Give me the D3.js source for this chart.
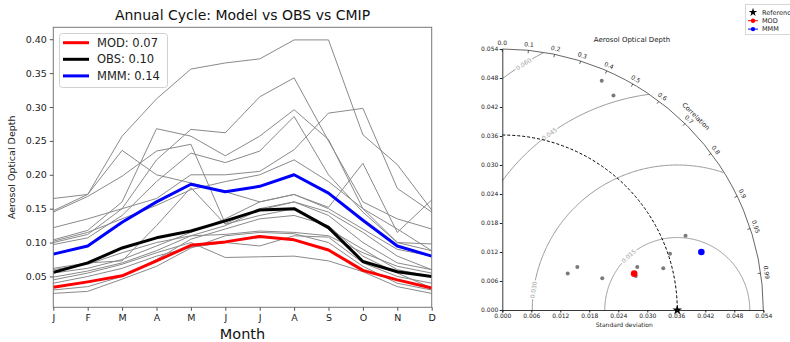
<html>
<head>
<script src="https://d3js.org/d3.v7.min.js"></script>
<style>
  body { margin: 0; background: #fff; }
  svg { font-family: "DejaVu Sans", sans-serif; }
</style>
</head>
<body>
<svg id="chart" width="790" height="342"></svg>
<script>
// ---- annual cycle data ----
const months = ["J", "F", "M", "A", "M", "J", "J", "A", "S", "O", "N", "D"];
const mod = [0.034, 0.042, 0.051, 0.073, 0.096, 0.101, 0.109, 0.104, 0.089, 0.059, 0.045, 0.033];
const obs = [0.056, 0.070, 0.092, 0.107, 0.117, 0.132, 0.148, 0.150, 0.122, 0.072, 0.057, 0.050];
const mmm = [0.083, 0.095, 0.130, 0.160, 0.186, 0.175, 0.183, 0.200, 0.173, 0.133, 0.095, 0.080];
const cmip = [
  [0.147, 0.171, 0.257, 0.312, 0.356, 0.365, 0.371, 0.399, 0.399, 0.259, 0.215, 0.148],
  [0.165, 0.171, 0.236, 0.200, 0.188, 0.175, 0.160, 0.171, 0.152, 0.217, 0.115, 0.163],
  [0.145, 0.168, 0.198, 0.235, 0.245, 0.128, 0.150, 0.160, 0.140, 0.100, 0.070, 0.060],
  [0.104, 0.118, 0.160, 0.268, 0.257, 0.228, 0.257, 0.296, 0.252, 0.150, 0.100, 0.088],
  [0.100, 0.112, 0.150, 0.222, 0.267, 0.262, 0.315, 0.343, 0.250, 0.160, 0.135, 0.120],
  [0.097, 0.107, 0.140, 0.190, 0.232, 0.218, 0.235, 0.286, 0.200, 0.145, 0.100, 0.098],
  [0.122, 0.135, 0.150, 0.165, 0.200, 0.200, 0.205, 0.237, 0.291, 0.298, 0.180, 0.145],
  [0.102, 0.115, 0.135, 0.155, 0.178, 0.190, 0.200, 0.222, 0.190, 0.150, 0.120, 0.088],
  [0.060, 0.068, 0.085, 0.100, 0.110, 0.125, 0.148, 0.160, 0.145, 0.115, 0.080, 0.060],
  [0.055, 0.062, 0.075, 0.095, 0.115, 0.135, 0.160, 0.171, 0.150, 0.120, 0.090, 0.080],
  [0.049, 0.058, 0.070, 0.088, 0.110, 0.112, 0.117, 0.115, 0.110, 0.085, 0.065, 0.055],
  [0.045, 0.055, 0.068, 0.085, 0.100, 0.078, 0.079, 0.080, 0.073, 0.057, 0.035, 0.025],
  [0.040, 0.050, 0.062, 0.080, 0.093, 0.100, 0.095, 0.110, 0.108, 0.070, 0.050, 0.040],
  [0.030, 0.035, 0.050, 0.075, 0.105, 0.120, 0.135, 0.140, 0.125, 0.080, 0.055, 0.033],
  [0.025, 0.028, 0.046, 0.065, 0.092, 0.110, 0.115, 0.113, 0.100, 0.065, 0.040, 0.030],
  [0.062, 0.070, 0.073, 0.125, 0.181, 0.127, 0.140, 0.150, 0.120, 0.090, 0.060, 0.050]
];
const legendLabels = ["MOD: 0.07", "OBS: 0.10", "MMM: 0.14"];
const yTicks = [0.05, 0.10, 0.15, 0.20, 0.25, 0.30, 0.35, 0.40];

// ---- taylor diagram data ----
const refStd = 0.0362;
const modStd = 0.0283, modCorr = 0.964;
const mmmStd = 0.0429, mmmCorr = 0.960;
const cmipStd = [0.0517, 0.0500, 0.0409, 0.0366, 0.0344, 0.0293, 0.0285, 0.0217, 0.0155, 0.0179];
const cmipCorr = [0.398, 0.460, 0.927, 0.948, 0.968, 0.953, 0.969, 0.953, 0.873, 0.867];
const stdTicks = [0, 0.006, 0.012, 0.018, 0.024, 0.030, 0.036, 0.042, 0.048, 0.054];
const corrTicks = [0, 0.1, 0.2, 0.3, 0.4, 0.5, 0.6, 0.7, 0.8, 0.9, 0.95, 0.99];
const rmsLevels = [0.015, 0.030, 0.045, 0.060];
const rmsLabelAngle = [132, 172, 126, 122]; // degrees around the reference point

const svg = d3.select("#chart");

// ================= left: annual cycle =================
const L = {left: 53.3, right: 431.7, top: 27.3, bottom: 307.3};
const x = d3.scaleLinear().domain([0, 11]).range([L.left, L.right]);
const y = d3.scaleLinear().domain([0.0045, 0.4176]).range([L.bottom, L.top]);
const line = d3.line().x((d, i) => x(i)).y(d => y(d));

const g1 = svg.append("g");

g1.selectAll(".cmip").data(cmip).enter().append("path")
  .attr("class", "cmip")
  .attr("d", line)
  .attr("fill", "none")
  .attr("stroke", "#8a8a8a")
  .attr("stroke-width", 1);

const main = [{v: mod, c: "#ff0000"}, {v: obs, c: "#000000"}, {v: mmm, c: "#0000ff"}];
g1.selectAll(".main").data(main).enter().append("path")
  .attr("class", "main")
  .attr("d", d => line(d.v))
  .attr("fill", "none")
  .attr("stroke", d => d.c)
  .attr("stroke-width", 3)
  .attr("stroke-linejoin", "round");

// frame
g1.append("rect")
  .attr("x", L.left).attr("y", L.top)
  .attr("width", L.right - L.left).attr("height", L.bottom - L.top)
  .attr("fill", "none").attr("stroke", "#777").attr("stroke-width", 1);

const xAxis = g1.append("g")
  .attr("transform", "translate(0," + L.bottom + ")")
  .call(d3.axisBottom(x).tickValues(d3.range(12)).tickFormat(i => months[i]).tickSize(3.5).tickPadding(3));
const yAxis = g1.append("g")
  .attr("transform", "translate(" + L.left + ",0)")
  .call(d3.axisLeft(y).tickValues(yTicks).tickFormat(d3.format(".2f")).tickSize(3.5).tickPadding(3));
[xAxis, yAxis].forEach(a => {
  a.select(".domain").remove();
  a.selectAll("line").attr("stroke", "#555");
  a.selectAll("text").attr("font-size", 9.5).attr("fill", "#222").attr("font-family", "DejaVu Sans");
});

g1.append("text")
  .attr("x", (L.left + L.right) / 2).attr("y", 20)
  .attr("text-anchor", "middle").attr("font-size", 14).attr("fill", "#111")
  .text("Annual Cycle: Model vs OBS vs CMIP");
g1.append("text")
  .attr("x", (L.left + L.right) / 2).attr("y", 339)
  .attr("text-anchor", "middle").attr("font-size", 14.5).attr("fill", "#111")
  .text("Month");
g1.append("text")
  .attr("transform", "translate(15," + (L.top + L.bottom) / 2 + ") rotate(-90)")
  .attr("text-anchor", "middle").attr("font-size", 9.5).attr("fill", "#222")
  .text("Aerosol Optical Depth");

// legend
const lg = g1.append("g");
lg.append("rect")
  .attr("x", 59.5).attr("y", 33.5).attr("width", 108).attr("height", 54).attr("rx", 3)
  .attr("fill", "#fff").attr("fill-opacity", 0.8).attr("stroke", "#d0d0d0");
legendLabels.forEach((t, i) => {
  const yy = 42.7 + i * 16.6;
  lg.append("line").attr("x1", 63).attr("x2", 89).attr("y1", yy).attr("y2", yy)
    .attr("stroke", main[i].c).attr("stroke-width", 3);
  lg.append("text").attr("x", 97).attr("y", yy).attr("dy", "0.35em")
    .attr("font-size", 11.5).attr("fill", "#222").text(t);
});

// ================= right: taylor diagram =================
const cx = 502.3, cy = 310, R = 261;
const rs = d3.scaleLinear().domain([0, 0.054]).range([0, R]);
const xs = d3.scaleLinear().domain([0, 0.054]).range([cx, cx + R]);
const ys = d3.scaleLinear().domain([0, 0.054]).range([cy, cy - R]);
const polar = (std, corr) => {
  const th = Math.acos(corr);
  return [cx + rs(std) * Math.cos(th), cy - rs(std) * Math.sin(th)];
};
const g2 = svg.append("g");

// rms contours around the reference
rmsLevels.forEach((lev, k) => {
  const pts = d3.range(0, 181, 0.5).map(a => {
    const p = a * Math.PI / 180;
    return [refStd + lev * Math.cos(p), lev * Math.sin(p)];
  });
  const ok = d => d[0] >= 0 && Math.hypot(d[0], d[1]) <= 0.054;
  g2.append("path")
    .attr("d", d3.line().defined(ok).x(d => xs(d[0])).y(d => ys(d[1]))(pts))
    .attr("fill", "none").attr("stroke", "#8c8c8c").attr("stroke-width", 0.9);
  const a = rmsLabelAngle[k] * Math.PI / 180;
  const lx = xs(refStd + lev * Math.cos(a)), ly = ys(lev * Math.sin(a));
  g2.append("text")
    .attr("transform", "translate(" + lx + "," + ly + ") rotate(" + (-(rmsLabelAngle[k] - 90)) + ")")
    .attr("text-anchor", "middle").attr("dy", "0.35em")
    .attr("font-size", 6).attr("fill", "#a0a0a0")
    .attr("stroke", "#fff").attr("stroke-width", 3).attr("paint-order", "stroke")
    .text(d3.format(".3f")(lev));
});

// outer arc and reference arc
const arcPath = rad => { const p = d3.path(); p.arc(cx, cy, rad, -Math.PI / 2, 0); return p.toString(); };
g2.append("path").attr("d", arcPath(R)).attr("fill", "none").attr("stroke", "#555").attr("stroke-width", 0.9);
g2.append("path").attr("d", arcPath(rs(refStd))).attr("fill", "none")
  .attr("stroke", "#000").attr("stroke-width", 1).attr("stroke-dasharray", "3,2");

// correlation ticks + labels
corrTicks.forEach(c => {
  const th = Math.acos(c);
  g2.append("line")
    .attr("x1", cx + R * Math.cos(th)).attr("y1", cy - R * Math.sin(th))
    .attr("x2", cx + (R - 3) * Math.cos(th)).attr("y2", cy - (R - 3) * Math.sin(th))
    .attr("stroke", "#333").attr("stroke-width", 0.8);
  const rr = R + 5.5;
  g2.append("text")
    .attr("transform", "translate(" + (cx + rr * Math.cos(th)) + "," + (cy - rr * Math.sin(th)) + ") rotate(" + (90 - th * 180 / Math.PI) + ")")
    .attr("text-anchor", "middle").attr("dy", "0.3em")
    .attr("font-size", 6).attr("fill", "#222")
    .text(c === 0 ? "0.0" : String(c));
});
g2.append("text")
  .attr("transform", "translate(" + (cx + (R + 13) * Math.cos(Math.PI / 4)) + "," + (cy - (R + 13) * Math.sin(Math.PI / 4)) + ") rotate(45)")
  .attr("text-anchor", "middle").attr("dy", "0.35em")
  .attr("font-size", 6.5).attr("fill", "#222").text("Correlation");

// axes
const tx = g2.append("g").attr("transform", "translate(0," + cy + ")")
  .call(d3.axisBottom(xs).tickValues(stdTicks).tickFormat(d3.format(".3f")).tickSize(2.5).tickPadding(1.5));
const ty = g2.append("g").attr("transform", "translate(" + cx + ",0)")
  .call(d3.axisLeft(ys).tickValues(stdTicks).tickFormat(d3.format(".3f")).tickSize(2.5).tickPadding(1.5));
[tx, ty].forEach(a => {
  a.select(".domain").attr("stroke", "#222").attr("stroke-width", 0.9);
  a.selectAll("line").attr("stroke", "#222");
  a.selectAll("text").attr("font-size", 6).attr("fill", "#222").attr("font-family", "DejaVu Sans");
});

g2.append("text").attr("x", cx + 122).attr("y", 327)
  .attr("text-anchor", "middle").attr("font-size", 6).attr("fill", "#222").text("Standard deviation");
g2.append("text").attr("x", 632).attr("y", 42)
  .attr("text-anchor", "middle").attr("font-size", 7).attr("fill", "#222").text("Aerosol Optical Depth");

// points
g2.selectAll(".cm").data(cmipStd).enter().append("circle")
  .attr("class", "cm")
  .attr("cx", (d, i) => polar(d, cmipCorr[i])[0])
  .attr("cy", (d, i) => polar(d, cmipCorr[i])[1])
  .attr("r", 2).attr("fill", "#7a7a7a");
[[modStd, modCorr, "#ff0000"], [mmmStd, mmmCorr, "#0000ff"]].forEach(d => {
  const p = polar(d[0], d[1]);
  g2.append("circle").attr("cx", p[0]).attr("cy", p[1]).attr("r", 3.3).attr("fill", d[2]);
});
const rp = polar(refStd, 1);
g2.append("path").attr("transform", "translate(" + rp[0] + "," + rp[1] + ")")
  .attr("d", d3.symbol(d3.symbolStar).size(30)).attr("fill", "#000");

// legend top right
const tl = svg.append("g");
tl.append("rect").attr("x", 745.5).attr("y", 4.5).attr("width", 60).attr("height", 30)
  .attr("fill", "#fff").attr("stroke", "#ccc").attr("stroke-width", 0.8);
const tItems = [["Reference", "#000", true], ["MOD", "#ff0000", false], ["MMM", "#0000ff", false]];
tItems.forEach((it, i) => {
  const yy = 12.3 + i * 8.4;
  if (it[2]) {
    tl.append("path").attr("transform", "translate(753," + yy + ")")
      .attr("d", d3.symbol(d3.symbolStar).size(22)).attr("fill", it[1]);
  } else {
    tl.append("line").attr("x1", 748).attr("x2", 758).attr("y1", yy).attr("y2", yy)
      .attr("stroke", it[1]).attr("stroke-width", 1);
    tl.append("circle").attr("cx", 753).attr("cy", yy).attr("r", 2.2).attr("fill", it[1]);
  }
  tl.append("text").attr("x", 762).attr("y", yy).attr("dy", "0.35em")
    .attr("font-size", 6.5).attr("fill", "#222").text(it[0]);
});
</script>
</body>
</html>
